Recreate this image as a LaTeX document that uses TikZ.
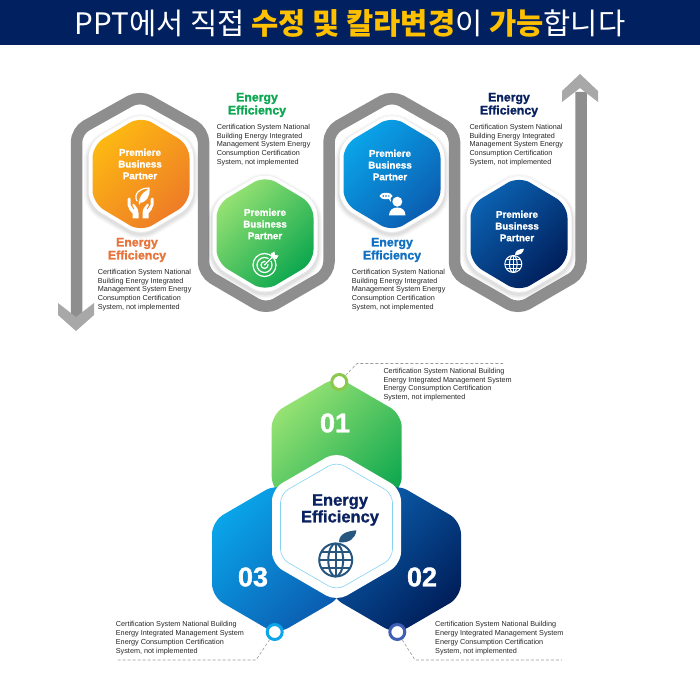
\documentclass[tikz,border=0pt]{standalone}
\usepackage{fontspec}
\setmainfont{Liberation Sans}[BoldFeatures={FakeBold=1.3}]
\newfontfamily\korfont{Noto Sans CJK KR}
\usetikzlibrary{shapes.geometric,positioning}

\definecolor{barnavy}{HTML}{002060}
\definecolor{baryellow}{HTML}{FFC000}
\definecolor{pathgray}{HTML}{8E8E8E}
\definecolor{tipgray}{HTML}{A8A8A8}
\definecolor{orangeA}{HTML}{FDB912}
\definecolor{orangeB}{HTML}{EE7B27}
\definecolor{greenA}{HTML}{96E273}
\definecolor{greenB}{HTML}{0BA64E}
\definecolor{blueA}{HTML}{0AA5EA}
\definecolor{blueB}{HTML}{0B5CB0}
\definecolor{navyA}{HTML}{0B62B2}
\definecolor{navyB}{HTML}{001E5A}
\definecolor{headorange}{HTML}{E8743B}
\definecolor{headgreen}{HTML}{0DA851}
\definecolor{headblue}{HTML}{1070C2}
\definecolor{headnavy}{HTML}{0B2260}
\definecolor{globeblue}{HTML}{27577F}
\definecolor{ringgreen}{HTML}{8CC84B}
\definecolor{ringnavy}{HTML}{3F5FB5}

% hexagon outline: centre x, centre y, half width, radius
\newcommand{\hexpath}[4]{(#1,{#2-#4}) -- ({#1+#3},{#2-#4/2}) -- ({#1+#3},{#2+#4/2}) -- (#1,{#2+#4}) -- ({#1-#3},{#2+#4/2}) -- ({#1-#3},{#2-#4/2}) -- cycle}

% globe with leaf: centre x, centre y, radius, line width, colour
\newcommand{\globeicon}[5]{%
\begin{scope}[shift={(#1,#2)},scale=#3,draw=#5,line width=#4]
    \draw (0,0) circle[radius=1];
    \draw (0,0) ellipse[x radius=0.45,y radius=1];
    \draw (0,-1) -- (0,1);
    \draw (-1,0) -- (1,0);
    \draw (-0.86,-0.5) -- (0.86,-0.5);
    \draw (-0.86,0.5) -- (0.86,0.5);
    \fill[#5] (0.2,-1.08) .. controls (0.2,-1.6) and (0.7,-1.75) .. (1.25,-1.8) .. controls (1.2,-1.3) and (0.8,-1.0) .. (0.2,-1.08);
\end{scope}}

\begin{document}
\begin{tikzpicture}[
    x=1pt, y=-1pt,
    titlenode/.style={font=\korfont\fontsize{29.6}{32}\selectfont, text=white, inner sep=0pt},
    cardnode/.style={font=\fontsize{9.8}{11.7}\selectfont\bfseries, text=white, align=center, inner sep=0pt},
    headnode/.style={font=\fontsize{12.3}{13}\selectfont\bfseries, align=center, inner sep=0pt},
    bodynode/.style={font=\fontsize{7.25}{8.8}\selectfont, text=black!85, align=left, anchor=west, inner sep=0pt},
    numnode/.style={font=\fontsize{27}{30}\selectfont\bfseries, text=white, inner sep=0pt},
    dotnode/.style={circle, fill=white, line width=3pt, minimum size=15pt, inner sep=0pt},
    leader/.style={black!40, line width=0.6pt, dash pattern=on 3pt off 2pt},
    iconline/.style={white, line width=1.2pt, line cap=round, line join=round}
]
\useasboundingbox (0,0) rectangle (700,700);
\fill[white] (0,0) rectangle (700,700);

% Title bar
\fill[barnavy] (0,0) rectangle (700,45);
\node[titlenode] (title) at (350,23) {PPT에서 직접 \textbf{\color{baryellow}수정 및 칼라변경}이 \textbf{\color{baryellow}가능}합니다};

% Winding grey band
\draw[pathgray, line width=11.5pt, rounded corners=11pt] (76.5,318) -- (76.5,131) -- (140,95.5) -- (203.5,131) -- (203.5,273) -- (266,309.5) -- (329,273) -- (329,131) -- (392,95.5) -- (454.5,131) -- (454.5,273) -- (518,309.5) -- (581,273) -- (581,92);

% Band ends
\fill[tipgray] (58,303) -- (76,317) -- (94,303) -- (94,315) -- (76,331) -- (58,315) -- cycle;
\fill[tipgray] (562,102) -- (580,88) -- (598,102) -- (598,91) -- (580,74) -- (562,91) -- cycle;

% Cards
\foreach \name/\cx/\cy/\colA/\colB/\tx/\ty in {
    one/141/174/orangeA/orangeB/140/164,
    two/265/233.5/greenA/greenB/265/224,
    three/392/174/blueA/blueB/390/165,
    four/519/234/navyA/navyB/517/226} {
    \foreach \w/\o in {9/0.03,6/0.04,3/0.05} {
        \draw[black, opacity=\o, line width=\w pt, rounded corners=14pt] \hexpath{\cx}{\cy+2.5}{52.5}{62};
    }
    \fill[white, rounded corners=14pt] \hexpath{\cx}{\cy}{52.5}{62};
    \shade[top color=\colA, bottom color=\colB, shading angle=45, rounded corners=13pt] \hexpath{\cx}{\cy}{48.5}{58};
    \node[cardnode] (card\name) at (\tx,\ty) {Premiere\\Business\\Partner};
}

% Card headings
\node[headnode, text=headorange] (headone) at (137,250) {Energy\\Efficiency};
\node[headnode, text=headgreen] (headtwo) at (257,105) {Energy\\Efficiency};
\node[headnode, text=headblue] (headthree) at (392,250) {Energy\\Efficiency};
\node[headnode, text=headnavy] (headfour) at (509,105) {Energy\\Efficiency};

% Card texts
\foreach \name/\tx/\ty in {one/97.7/290, two/216.7/145, three/351.7/290, four/469.3/145} {
    \node[bodynode] (body\name) at (\tx,\ty) {Certification System National\\Building Energy Integrated\\Management System Energy\\Consumption Certification\\System, not implemented};
}

% Hands and leaf
\foreach \s in {1,-1} {
    \begin{scope}[shift={(140.5,205)}, xscale=\s]
        \fill[white] (-2,13.5) -- (-2,8) .. controls (-2,5) and (-3,3.5) .. (-4.5,1.5) -- (-6.5,-1) .. controls (-7.5,-2) and (-9,-1) .. (-8,0.5) -- (-6,4) -- (-7,4.5) -- (-10,0) -- (-10,-6) .. controls (-10.5,-8) and (-12.5,-8) .. (-13,-6) -- (-13,0) .. controls (-12.5,3.5) and (-10,6.5) .. (-8,8.5) -- (-8,13.5) -- cycle;
    \end{scope}
}
\draw[iconline] (139.5,204) .. controls (139.5,197) and (143,193) .. (147,191);
\draw[iconline] (137,201) .. controls (133,194) and (140,188) .. (149,188) .. controls (150,195) and (146,203) .. (139,202);
\fill[white] (149,188) .. controls (150,195) and (146,203) .. (139.5,202) .. controls (141,197) and (144,193) .. (149,188) -- cycle;

% Target and arrow
\foreach \r in {11.5,7.5,3.5} {
    \draw[iconline] (264.5,265) circle[radius=\r];
}
\draw[greenB!80!greenA, line width=3pt] (266,263.5) -- (274,255.5);
\draw[iconline] (264.5,265) -- (274,255.5);
\fill[white] (271,258) -- (271,253.5) -- (274.5,251.5) -- (275,255) -- (278.5,255.5) -- (276.5,259) -- cycle;

% Person and speech bubble
\fill[white] (397.3,201.7) circle[radius=5];
\fill[white] (389,215.5) .. controls (389,210) and (393,207.5) .. (397.3,207.5) .. controls (401.5,207.5) and (405.5,210) .. (405.5,215.5) -- cycle;
\fill[white] (386,196) ellipse[x radius=6.5,y radius=3.2];
\fill[white] (388,198) -- (391,202) -- (390.5,198) -- cycle;
\foreach \x in {383.2,386,388.8} {
    \fill[blueB!70!blueA] (\x,196) circle[radius=0.8];
}

% Globe on the last card
\globeicon{513.3}{264}{8.5}{1pt}{white}

% Three outer hexagons
\shade[top color=greenA, bottom color=greenB, shading angle=45, rounded corners=13pt] \hexpath{336.7}{452}{65}{75.5};
\shade[top color=blueA, bottom color=blueB, shading angle=45, rounded corners=13pt] \hexpath{277}{559}{65}{75.5};
\shade[top color=navyA, bottom color=navyB, shading angle=45, rounded corners=13pt] \hexpath{396}{559}{65}{75.5};

% Centre hexagon
\fill[white, rounded corners=12pt] \hexpath{336.5}{526.5}{64.5}{75};
\draw[blueA!50, line width=0.6pt, rounded corners=9pt] \hexpath{336.5}{526}{56}{64.5};
\node[headnode, font=\fontsize{16.5}{16.7}\selectfont\bfseries, text=headnavy] (centerhead) at (340,510) {Energy\\Efficiency};
\globeicon{335.7}{560}{16.5}{2pt}{globeblue}

% Numbers
\node[numnode] (numone) at (335,423) {01};
\node[numnode] (numtwo) at (422,577) {02};
\node[numnode] (numthree) at (253,577) {03};

% Leader lines
\node[dotnode, draw=ringgreen] (dotone) at (339.3,382) {};
\node[dotnode, draw=blueA] (dotthree) at (274.7,632) {};
\node[dotnode, draw=ringnavy] (dottwo) at (397.3,632) {};
\coordinate (bendone) at (357,363.5);
\coordinate (endone) at (503,363.5);
\coordinate (bendtwo) at (415,660);
\coordinate (endtwo) at (562,660);
\coordinate (bendthree) at (256,660);
\coordinate (endthree) at (118,660);
\draw[leader] (dotone) -- (bendone) -- (endone);
\draw[leader] (dottwo) -- (bendtwo) -- (endtwo);
\draw[leader] (dotthree) -- (bendthree) -- (endthree);

% Leader texts
\foreach \name/\tx/\ty in {one/383.3/384.6, two/435/638, three/115.7/638} {
    \node[bodynode] (note\name) at (\tx,\ty) {Certification System National Building\\Energy Integrated Management System\\Energy Consumption Certification\\System, not implemented};
}

\end{tikzpicture}
\end{document}
